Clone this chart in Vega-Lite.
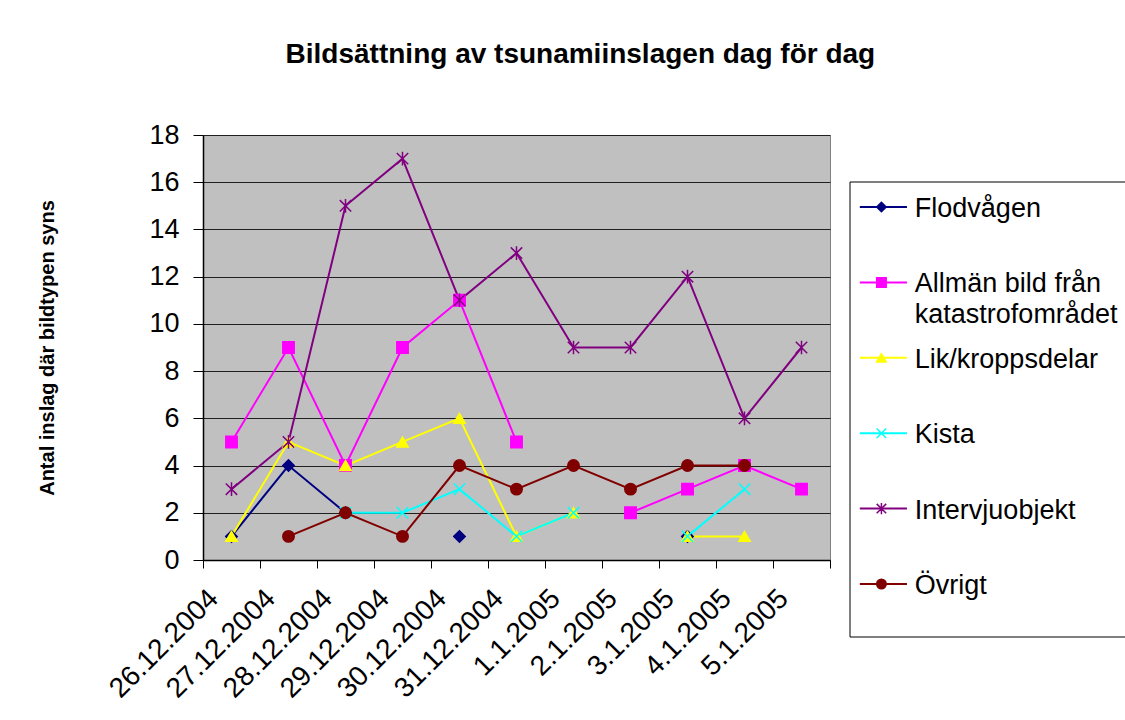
{
  "$schema": "https://vega.github.io/schema/vega-lite/v6.json",
  "background": "white",
  "padding": {"left": 37, "top": 40, "right": 0, "bottom": 0},
  "autosize": {"type": "pad"},
  "title": {"text": "Bildsättning av tsunamiinslagen dag för dag", "fontSize": 28, "fontWeight": "bold", "font": "Liberation Sans", "color": "black", "anchor": "middle", "offset": 52, "dx": -6},
  "config": {"font": "Liberation Sans"},
  "spacing": 20,
  "bounds": "flush",
  "datasets": {
    "counts": [
      {"series": "Flodvågen", "date": "26.12.2004", "count": 1},
      {"series": "Flodvågen", "date": "27.12.2004", "count": 4},
      {"series": "Flodvågen", "date": "28.12.2004", "count": 2},
      {"series": "Flodvågen", "date": "29.12.2004", "count": null},
      {"series": "Flodvågen", "date": "30.12.2004", "count": 1},
      {"series": "Flodvågen", "date": "31.12.2004", "count": null},
      {"series": "Flodvågen", "date": "1.1.2005", "count": null},
      {"series": "Flodvågen", "date": "2.1.2005", "count": null},
      {"series": "Flodvågen", "date": "3.1.2005", "count": 1},
      {"series": "Flodvågen", "date": "4.1.2005", "count": null},
      {"series": "Flodvågen", "date": "5.1.2005", "count": null},
      {"series": "Allmän bild från katastrofområdet", "date": "26.12.2004", "count": 5},
      {"series": "Allmän bild från katastrofområdet", "date": "27.12.2004", "count": 9},
      {"series": "Allmän bild från katastrofområdet", "date": "28.12.2004", "count": 4},
      {"series": "Allmän bild från katastrofområdet", "date": "29.12.2004", "count": 9},
      {"series": "Allmän bild från katastrofområdet", "date": "30.12.2004", "count": 11},
      {"series": "Allmän bild från katastrofområdet", "date": "31.12.2004", "count": 5},
      {"series": "Allmän bild från katastrofområdet", "date": "1.1.2005", "count": null},
      {"series": "Allmän bild från katastrofområdet", "date": "2.1.2005", "count": 2},
      {"series": "Allmän bild från katastrofområdet", "date": "3.1.2005", "count": 3},
      {"series": "Allmän bild från katastrofområdet", "date": "4.1.2005", "count": 4},
      {"series": "Allmän bild från katastrofområdet", "date": "5.1.2005", "count": 3},
      {"series": "Lik/kroppsdelar", "date": "26.12.2004", "count": 1},
      {"series": "Lik/kroppsdelar", "date": "27.12.2004", "count": 5},
      {"series": "Lik/kroppsdelar", "date": "28.12.2004", "count": 4},
      {"series": "Lik/kroppsdelar", "date": "29.12.2004", "count": 5},
      {"series": "Lik/kroppsdelar", "date": "30.12.2004", "count": 6},
      {"series": "Lik/kroppsdelar", "date": "31.12.2004", "count": 1},
      {"series": "Lik/kroppsdelar", "date": "1.1.2005", "count": 2},
      {"series": "Lik/kroppsdelar", "date": "2.1.2005", "count": null},
      {"series": "Lik/kroppsdelar", "date": "3.1.2005", "count": 1},
      {"series": "Lik/kroppsdelar", "date": "4.1.2005", "count": 1},
      {"series": "Lik/kroppsdelar", "date": "5.1.2005", "count": null},
      {"series": "Kista", "date": "26.12.2004", "count": null},
      {"series": "Kista", "date": "27.12.2004", "count": null},
      {"series": "Kista", "date": "28.12.2004", "count": 2},
      {"series": "Kista", "date": "29.12.2004", "count": 2},
      {"series": "Kista", "date": "30.12.2004", "count": 3},
      {"series": "Kista", "date": "31.12.2004", "count": 1},
      {"series": "Kista", "date": "1.1.2005", "count": 2},
      {"series": "Kista", "date": "2.1.2005", "count": null},
      {"series": "Kista", "date": "3.1.2005", "count": 1},
      {"series": "Kista", "date": "4.1.2005", "count": 3},
      {"series": "Kista", "date": "5.1.2005", "count": null},
      {"series": "Intervjuobjekt", "date": "26.12.2004", "count": 3},
      {"series": "Intervjuobjekt", "date": "27.12.2004", "count": 5},
      {"series": "Intervjuobjekt", "date": "28.12.2004", "count": 15},
      {"series": "Intervjuobjekt", "date": "29.12.2004", "count": 17},
      {"series": "Intervjuobjekt", "date": "30.12.2004", "count": 11},
      {"series": "Intervjuobjekt", "date": "31.12.2004", "count": 13},
      {"series": "Intervjuobjekt", "date": "1.1.2005", "count": 9},
      {"series": "Intervjuobjekt", "date": "2.1.2005", "count": 9},
      {"series": "Intervjuobjekt", "date": "3.1.2005", "count": 12},
      {"series": "Intervjuobjekt", "date": "4.1.2005", "count": 6},
      {"series": "Intervjuobjekt", "date": "5.1.2005", "count": 9},
      {"series": "Övrigt", "date": "26.12.2004", "count": null},
      {"series": "Övrigt", "date": "27.12.2004", "count": 1},
      {"series": "Övrigt", "date": "28.12.2004", "count": 2},
      {"series": "Övrigt", "date": "29.12.2004", "count": 1},
      {"series": "Övrigt", "date": "30.12.2004", "count": 4},
      {"series": "Övrigt", "date": "31.12.2004", "count": 3},
      {"series": "Övrigt", "date": "1.1.2005", "count": 4},
      {"series": "Övrigt", "date": "2.1.2005", "count": 3},
      {"series": "Övrigt", "date": "3.1.2005", "count": 4},
      {"series": "Övrigt", "date": "4.1.2005", "count": 4},
      {"series": "Övrigt", "date": "5.1.2005", "count": null}
    ],
    "series": [
      {"series": "Flodvågen", "label": "Flodvågen"},
      {"series": "Allmän bild från katastrofområdet", "label": "Allmän bild från\nkatastrofområdet"},
      {"series": "Lik/kroppsdelar", "label": "Lik/kroppsdelar"},
      {"series": "Kista", "label": "Kista"},
      {"series": "Intervjuobjekt", "label": "Intervjuobjekt"},
      {"series": "Övrigt", "label": "Övrigt"}
    ]
  },
  "hconcat": [
    {
      "width": 627,
      "height": 425,
      "view": {"fill": "#C0C0C0", "stroke": "#808080", "strokeWidth": 1},
      "data": {"name": "counts"},
      "encoding": {
        "x": {
          "field": "date", "type": "nominal",
          "scale": {"type": "band", "paddingInner": 0, "paddingOuter": 0,
            "domain": ["26.12.2004", "27.12.2004", "28.12.2004", "29.12.2004", "30.12.2004", "31.12.2004", "1.1.2005", "2.1.2005", "3.1.2005", "4.1.2005", "5.1.2005"]},
          "axis": {"title": null, "labelAngle": -45, "labelAlign": "right", "labelBaseline": "middle", "labelFontSize": 28, "labelColor": "black", "labelPadding": 26, "labelOffset": -18, "tickBand": "extent", "tickSize": 8, "tickColor": "black", "domainColor": "black", "domainWidth": 1.5, "grid": false, "labelOverlap": false, "labelLimit": 0}
        },
        "y": {
          "field": "count", "type": "quantitative",
          "scale": {"domain": [0, 18], "nice": false},
          "axis": {"title": "Antal inslag där bildtypen syns", "titleFontSize": 20, "titleFontWeight": "bold", "titleColor": "black", "titlePadding": 91, "values": [0, 2, 4, 6, 8, 10, 12, 14, 16, 18], "labelFontSize": 27, "labelColor": "black", "labelPadding": 14, "tickSize": 10, "tickColor": "black", "domainColor": "black", "domainWidth": 1.5, "grid": true, "gridColor": "#202020", "gridWidth": 1, "labelFlush": false, "labelOverlap": false}
        },
        "color": {
          "field": "series", "type": "nominal",
          "scale": {"domain": ["Flodvågen", "Allmän bild från katastrofområdet", "Lik/kroppsdelar", "Kista", "Intervjuobjekt", "Övrigt"], "range": ["#000080", "#FF00FF", "#FFFF00", "#00FFFF", "#800080", "#800000"]},
          "legend": null
        }
      },
      "layer": [
        {"mark": {"type": "line", "strokeWidth": 2, "invalid": "break-paths-filter-domains"}},
        {
          "mark": {"type": "point", "filled": true, "opacity": 1, "strokeWidth": 1.5, "size": 130},
          "encoding": {
            "shape": {"field": "series", "type": "nominal", "scale": {"domain": ["Flodvågen", "Allmän bild från katastrofområdet", "Lik/kroppsdelar", "Kista", "Intervjuobjekt", "Övrigt"], "range": ["diamond", "square", "triangle-up", "M-1,-1L1,1M-1,1L1,-1", "M-1,-1L1,1M-1,1L1,-1M0,-1.2L0,1.2", "circle"]}, "legend": null},
            "stroke": {"field": "series", "type": "nominal", "scale": {"domain": ["Flodvågen", "Allmän bild från katastrofområdet", "Lik/kroppsdelar", "Kista", "Intervjuobjekt", "Övrigt"], "range": ["#000080", "#FF00FF", "#FFFF00", "#00FFFF", "#800080", "#800000"]}, "legend": null}
          }
        }
      ]
    },
    {
      "width": 275,
      "height": 502,
      "view": {"stroke": null},
      "layer": [
        {
          "data": {"values": [{}]},
          "mark": {"type": "rect", "fill": "white", "stroke": "black", "strokeWidth": 1},
          "encoding": {
            "x": {"datum": 0, "type": "quantitative", "scale": {"domain": [0, 275]}, "axis": null},
            "x2": {"datum": 290},
            "y": {"datum": 47, "type": "quantitative", "scale": {"domain": [0, 502], "reverse": true}, "axis": null},
            "y2": {"datum": 502}
          }
        },
        {
          "data": {"name": "series"},
          "encoding": {
            "y": {"field": "series", "type": "nominal", "scale": {"type": "point", "padding": 0, "domain": ["Flodvågen", "Allmän bild från katastrofområdet", "Lik/kroppsdelar", "Kista", "Intervjuobjekt", "Övrigt"], "range": [72, 449]}, "axis": null},
            "color": {"field": "series", "type": "nominal", "scale": {"domain": ["Flodvågen", "Allmän bild från katastrofområdet", "Lik/kroppsdelar", "Kista", "Intervjuobjekt", "Övrigt"], "range": ["#000080", "#FF00FF", "#FFFF00", "#00FFFF", "#800080", "#800000"]}, "legend": null}
          },
          "layer": [
            {"mark": {"type": "rule", "strokeWidth": 2}, "encoding": {"x": {"datum": 10, "type": "quantitative"}, "x2": {"datum": 58}}},
            {
              "mark": {"type": "point", "filled": true, "opacity": 1, "strokeWidth": 1.5, "size": 90},
              "encoding": {
                "x": {"datum": 32, "type": "quantitative"},
                "shape": {"field": "series", "type": "nominal", "scale": {"domain": ["Flodvågen", "Allmän bild från katastrofområdet", "Lik/kroppsdelar", "Kista", "Intervjuobjekt", "Övrigt"], "range": ["diamond", "square", "triangle-up", "M-1,-1L1,1M-1,1L1,-1", "M-1,-1L1,1M-1,1L1,-1M0,-1.2L0,1.2", "circle"]}, "legend": null},
                "stroke": {"field": "series", "type": "nominal", "scale": {"domain": ["Flodvågen", "Allmän bild från katastrofområdet", "Lik/kroppsdelar", "Kista", "Intervjuobjekt", "Övrigt"], "range": ["#000080", "#FF00FF", "#FFFF00", "#00FFFF", "#800080", "#800000"]}, "legend": null}
              }
            },
            {
              "mark": {"type": "text", "align": "left", "baseline": "alphabetic", "dy": 10, "fontSize": 27, "color": "black", "lineBreak": "\n", "lineHeight": 31},
              "encoding": {
                "x": {"datum": 66, "type": "quantitative"},
                "text": {"field": "label", "type": "nominal"},
                "color": {"value": "black"}
              }
            }
          ]
        }
      ],
      "resolve": {"scale": {"y": "independent"}}
    }
  ]
}
